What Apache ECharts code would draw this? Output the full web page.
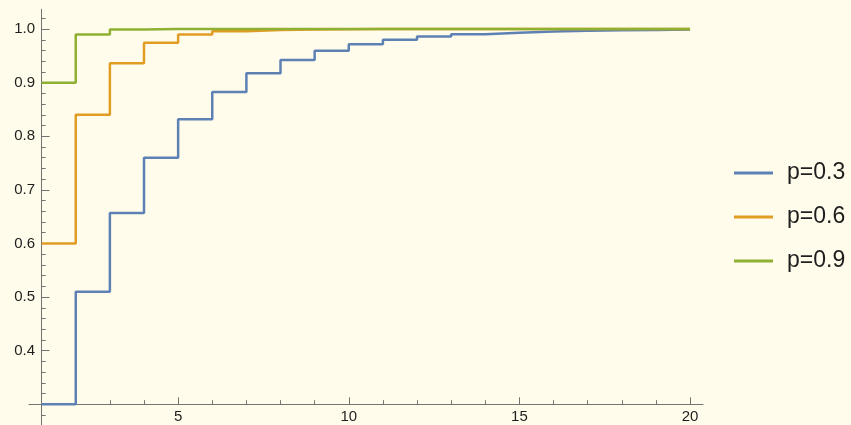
<!DOCTYPE html>
<html>
<head>
<meta charset="utf-8">
<script src="https://cdn.jsdelivr.net/npm/echarts@6/dist/echarts.min.js"></script>
<style>
  html, body { margin: 0; padding: 0; background: #FFFCEB; }
  #chart { width: 851px; height: 425px; }
</style>
</head>
<body>
<div id="chart"></div>
<script>
// Cumulative distribution of the geometric distribution, k = 1..20
const kValues = [1, 2, 3, 4, 5, 6, 7, 8, 9, 10, 11, 12, 13, 14, 15, 16, 17, 18, 19, 20];
const cdfP03 = [0.3, 0.51, 0.657, 0.7599, 0.8319, 0.8824, 0.9176, 0.9424, 0.9596, 0.9718,
                0.9802, 0.9862, 0.9903, 0.9932, 0.9953, 0.9967, 0.9977, 0.9984, 0.9989, 0.9992];
const cdfP06 = [0.6, 0.84, 0.936, 0.9744, 0.9898, 0.9959, 0.9984, 0.9993, 0.9997, 0.9999,
                1.0, 1.0, 1.0, 1.0, 1.0, 1.0, 1.0, 1.0, 1.0, 1.0];
const cdfP09 = [0.9, 0.99, 0.999, 0.9999, 1.0, 1.0, 1.0, 1.0, 1.0, 1.0,
                1.0, 1.0, 1.0, 1.0, 1.0, 1.0, 1.0, 1.0, 1.0, 1.0];
const seriesNames = ['p=0.3', 'p=0.6', 'p=0.9'];
const seriesColors = ['#5E81B5', '#E19C24', '#8FB032'];

// Axis ticks
const xMajorTicks = [5, 10, 15, 20];
const xMinorTicks = [1, 2, 3, 4, 6, 7, 8, 9, 11, 12, 13, 14, 16, 17, 18, 19];
const yMajorTicks = [0.3, 0.4, 0.5, 0.6, 0.7, 0.8, 0.9, 1.0];
const yTickLabels = [0.4, 0.5, 0.6, 0.7, 0.8, 0.9, 1.0];
const yMinorTicks = [0.28, 0.32, 0.34, 0.36, 0.38, 0.42, 0.44, 0.46, 0.48, 0.52, 0.54, 0.56, 0.58,
                     0.62, 0.64, 0.66, 0.68, 0.72, 0.74, 0.76, 0.78, 0.82, 0.84, 0.86, 0.88,
                     0.92, 0.94, 0.96, 0.98, 1.02];

const X_MIN = 0.63, X_MAX = 20.38;
const Y_MIN = 0.262, Y_MAX = 1.037;
const AXIS_Y = 0.3;   // horizontal axis crosses here
const AXIS_X = 1;     // vertical axis crosses here

const FONT = '"Liberation Sans", Arial, sans-serif';
const AXIS_COLOR = '#737373';
const LABEL_COLOR = '#1e1e1e';

const chart = echarts.init(document.getElementById('chart'), null, { renderer: 'canvas' });

const grid = { left: 29, right: 148, top: 9.2, bottom: 0.4 };
const plotW = 851 - grid.left - grid.right;
const plotH = 425 - grid.top - grid.bottom;
// axis offsets so the axes cross at (AXIS_X, AXIS_Y)
const xAxisOffset = -((AXIS_Y - Y_MIN) / (Y_MAX - Y_MIN)) * plotH;
const yAxisOffset = -((AXIS_X - X_MIN) / (X_MAX - X_MIN)) * plotW;

function pairs(ys) { return kValues.map((k, i) => [k, ys[i]]); }

const option = {
  backgroundColor: '#FFFCEB',
  animation: false,
  textStyle: { fontFamily: FONT },
  grid: grid,
  legend: {
    orient: 'vertical',
    left: 734,
    top: 161,
    padding: 0,
    itemGap: 20,
    itemWidth: 39,
    itemHeight: 3,
    icon: 'rect',
    data: seriesNames,
    textStyle: { fontFamily: FONT, fontSize: 23, color: LABEL_COLOR, lineHeight: 24, padding: [0, 0, 0, 9] }
  },
  xAxis: [
    {
      type: 'value', min: X_MIN, max: X_MAX, position: 'bottom', offset: xAxisOffset,
      axisLine: { show: true, onZero: false, lineStyle: { color: AXIS_COLOR, width: 1 } },
      axisTick: { show: true, inside: true, length: 7, customValues: xMajorTicks, lineStyle: { color: AXIS_COLOR } },
      axisLabel: { show: true, customValues: xMajorTicks, margin: 5, fontSize: 15, color: LABEL_COLOR, fontFamily: FONT },
      splitLine: { show: false }
    },
    {
      type: 'value', min: X_MIN, max: X_MAX, position: 'bottom', offset: xAxisOffset,
      axisLine: { show: false, onZero: false },
      axisTick: { show: true, inside: true, length: 4, customValues: xMinorTicks, lineStyle: { color: AXIS_COLOR } },
      axisLabel: { show: false },
      splitLine: { show: false }
    }
  ],
  yAxis: [
    {
      type: 'value', min: Y_MIN, max: Y_MAX, position: 'left', offset: yAxisOffset,
      axisLine: { show: true, onZero: false, lineStyle: { color: AXIS_COLOR, width: 1 } },
      axisTick: { show: true, inside: true, length: 8, customValues: yMajorTicks, lineStyle: { color: AXIS_COLOR } },
      axisLabel: {
        show: true, customValues: yTickLabels, margin: 6.5, fontSize: 15, color: LABEL_COLOR, fontFamily: FONT,
        formatter: v => Number(v).toFixed(1)
      },
      splitLine: { show: false }
    },
    {
      type: 'value', min: Y_MIN, max: Y_MAX, position: 'left', offset: yAxisOffset,
      axisLine: { show: false, onZero: false },
      axisTick: { show: true, inside: true, length: 4, customValues: yMinorTicks, lineStyle: { color: AXIS_COLOR } },
      axisLabel: { show: false },
      splitLine: { show: false }
    }
  ],
  series: [cdfP03, cdfP06, cdfP09].map((ys, i) => ({
    name: seriesNames[i],
    type: 'line',
    step: 'end',
    xAxisIndex: 0,
    yAxisIndex: 0,
    data: pairs(ys),
    showSymbol: false,
    symbol: 'none',
    color: seriesColors[i],
    lineStyle: { color: seriesColors[i], width: 2.5 },
    z: 3 + i
  }))
};

chart.setOption(option);
</script>
</body>
</html>
